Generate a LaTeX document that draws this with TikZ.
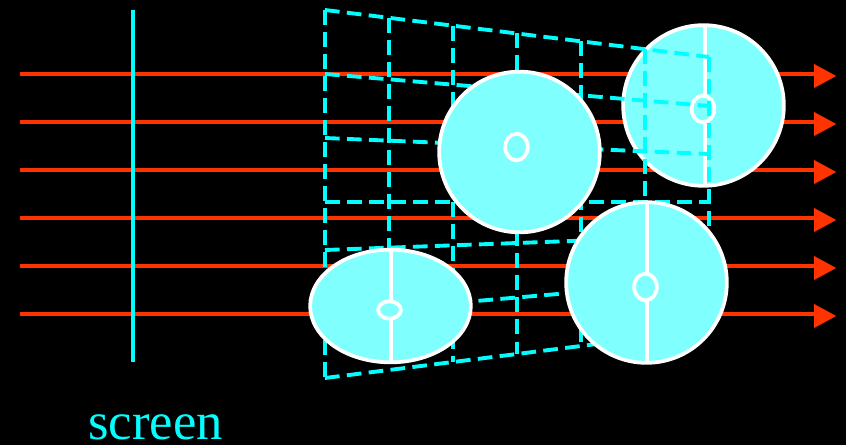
\documentclass[tikz,border=0pt]{standalone}
\usepackage{fontspec}
\setmainfont{Liberation Serif}
\usepackage{tikz}
\usetikzlibrary{shapes.geometric,arrows.meta}
\definecolor{rayRed}{HTML}{FF3300}
\definecolor{gridCyan}{HTML}{00FFFF}
\definecolor{discCyan}{HTML}{80FFFF}

\begin{document}
\begin{tikzpicture}[
                    x=0.75pt, y=-0.75pt,
                    disc/.style={shape=ellipse, draw=white, fill=discCyan, line width=2.8pt, inner sep=0pt,
                                 minimum width=120.5pt, minimum height=120.5pt},
                    hole/.style={shape=ellipse, draw=white, fill=discCyan, line width=2.8pt, inner sep=0pt,
                                 minimum width=17pt, minimum height=20pt},
                    spine/.style={draw=white, line width=2.8pt},
                    ray/.style={draw=rayRed, line width=2.8pt},
                    rayhead/.style={draw=rayRed, line width=0.1pt, -{Triangle[length=16.5pt,width=18pt,fill=rayRed]}},
                    gridline/.style={draw=gridCyan, line width=2.9pt, dash pattern=on 11pt off 5.5pt},
                    screenline/.style={draw=gridCyan, line width=2.6pt},
                    lbl/.style={font=\fontsize{39.5pt}{39.5pt}\selectfont, text=gridCyan, inner sep=0pt, anchor=base}
                ]
                    \useasboundingbox[fill=black] (0,0) rectangle (846,445);
                    % rays
                    \foreach \i/\ry in {1/74,2/122,3/170,4/218,5/266,6/314} {
                        \coordinate (rs\i) at (20,\ry);
                        \coordinate (re\i) at (815,\ry);
                        \coordinate (hs\i) at (814,\ry+2);
                        \coordinate (he\i) at (836,\ry+2);
                        \draw[ray] (rs\i) -- (re\i);
                        \draw[rayhead] (hs\i) -- (he\i);
                    }
                    % screen
                    \coordinate (st) at (133,10);
                    \coordinate (sb) at (133,362);
                    \draw[screenline] (st) -- (sb);
                    \node[lbl] (screenlbl) at (155.5,439) {screen};
                    % back disc, the grid runs over it
                    \node[disc] (d2) at (703.5,105.5) {};
                    \coordinate (d2t) at (705,24);
                    \coordinate (d2b) at (705,187);
                    \draw[spine] (d2t) -- (d2b);
                    \node[hole] (h2) at (703,109) {};
                    % grid
                    \foreach \i/\gx/\gt/\gb in {1/325/10/378,2/389/18/370,3/453/26/362,4/517/33.5/354,
                                                5/581/41/346,6/645/49/338,7/709/57/330} {
                        \coordinate (vt\i) at (\gx,\gt);
                        \coordinate (vb\i) at (\gx,\gb);
                        \draw[gridline] (vt\i) -- (vb\i);
                    }
                    \foreach \i/\gl/\gr in {1/10/57,2/74/106,3/138/154,4/202/202,5/250/236,6/314/281,7/378/330} {
                        \coordinate (hl\i) at (325,\gl);
                        \coordinate (hr\i) at (709,\gr);
                        \draw[gridline] (hl\i) -- (hr\i);
                    }
                    % front discs
                    \node[disc] (d1) at (519.5,152) {};
                    \node[hole] (h1) at (516.5,147) {};
                    \node[disc] (d3) at (646.5,282.5) {};
                    \coordinate (d3t) at (647,202);
                    \coordinate (d3b) at (647,363);
                    \draw[spine] (d3t) -- (d3b);
                    \node[hole] (h3) at (645.5,287) {};
                    \node[disc, minimum height=84.5pt] (d4) at (390.5,306) {};
                    \coordinate (d4t) at (391,250);
                    \coordinate (d4b) at (391,362);
                    \draw[spine] (d4t) -- (d4b);
                    \node[hole, minimum height=13pt] (h4) at (389.5,310) {};
                \end{tikzpicture}
\end{document}
